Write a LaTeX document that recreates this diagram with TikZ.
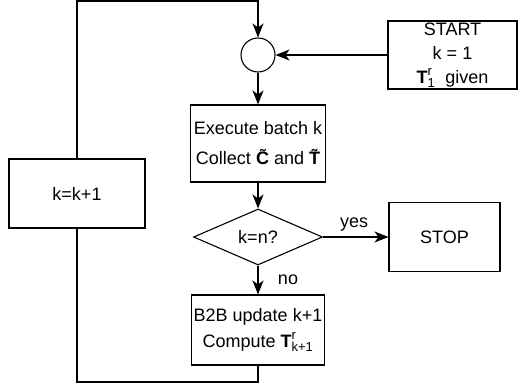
\documentclass[tikz,border=0pt]{standalone}
\usepackage{fontspec}
\setmainfont{Liberation Sans}
\usetikzlibrary{shapes.geometric,arrows.meta}
\newcommand\mysupsub[3]{$\hbox{\textbf{#1}}^{\hbox{\fontsize{13}{13}\selectfont #2}}_{\hbox{\fontsize{13}{13}\selectfont #3}}$}
\tikzset{
  lbl/.style={font=\fontsize{18}{24}\selectfont},
  box/.style={draw, line width=1.1pt, rectangle, align=center, inner sep=0pt, lbl},
  flow/.style={line width=1.1pt, -{Stealth[length=14pt,width=11pt,inset=4pt]}},
  plain/.style={line width=1.1pt}
}
\begin{document}
\begin{tikzpicture}[x=1pt,y=-1pt]
\useasboundingbox (0,0) rectangle (518,388);
\node[draw, circle, line width=1.1pt, minimum size=34pt, inner sep=0pt] (c) at (258,55) {};
\node[box, minimum width=129pt, minimum height=68pt] (start) at (452.5,55) {START\\k = 1\\\mysupsub{T}{r}{1}\ \ given};
\node[box, minimum width=135pt, minimum height=77pt] (exec) at (258,143.5) {Execute batch k\\[6pt]Collect \textbf{\~C} and \textbf{\~T}};
\node[box, minimum width=136pt, minimum height=69pt] (kk) at (77,193.5) {k=k+1};
\node[draw, diamond, line width=1.1pt, minimum width=129pt, minimum height=56pt, inner sep=0pt, aspect=2.3, lbl] (dec) at (258,237) {k=n?};
\node[box, minimum width=111pt, minimum height=69pt] (stop) at (444.5,237) {STOP};
\node[box, minimum width=133pt, minimum height=70pt] (b2b) at (258,330) {B2B update k+1\\[2pt]Compute \mysupsub{T}{r}{k+1}};
\node[lbl, inner sep=0pt] (yes) at (354,225) {yes};
\node[lbl, inner sep=0pt] (no) at (288,280) {no};
\coordinate (tl) at (77,1);
\coordinate (tr) at (258,1);
\coordinate (bl) at (77,382);
\coordinate (br) at (258,382);
\draw[flow] (start.west) -- (c.east);
\draw[flow] (c.south) -- (exec.north);
\draw[flow] (exec.south) -- (dec.north);
\draw[flow] (dec.east) -- (stop.west);
\draw[flow] (dec.south) -- (b2b.north);
\draw[plain] (b2b.south) -- (br) -- (bl) -- (kk.south);
\draw[flow] (kk.north) -- (tl) -- (tr) -- (c.north);
\end{tikzpicture}
\end{document}
